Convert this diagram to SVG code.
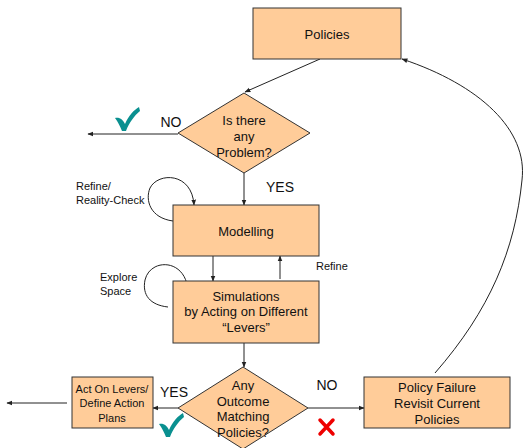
<svg xmlns="http://www.w3.org/2000/svg" width="524" height="448" viewBox="0 0 524 448">
  <defs>
    <marker id="arr" viewBox="0 0 10 10" refX="9" refY="5" markerWidth="6" markerHeight="6" orient="auto">
      <path d="M0,1 L10,5 L0,9 Z" fill="#222"/>
    </marker>
    <style>
      .box { fill: #ffcc99; stroke: #333; stroke-width: 1; }
      .t { font-family: "Liberation Sans", Arial, sans-serif; font-size: 13px; fill: #111; text-anchor: middle; dominant-baseline: central; }
      .s { font-family: "Liberation Sans", Arial, sans-serif; font-size: 11px; fill: #111; dominant-baseline: central; }
      .lbl { font-family: "Liberation Sans", Arial, sans-serif; font-size: 14px; fill: #111; text-anchor: middle; dominant-baseline: central; }
      .c { fill: none; stroke: #222; stroke-width: 1; }
      .tick { fill: #0a9090; }
    </style>
  </defs>

  <!-- connectors -->
  <g id="connectors">
    <line class="c" x1="320" y1="59" x2="245" y2="92" marker-end="url(#arr)"/>
    <line class="c" x1="178" y1="134" x2="88" y2="134" marker-end="url(#arr)"/>
    <line class="c" x1="244" y1="173" x2="244" y2="205" marker-end="url(#arr)"/>
    <path class="c" d="M173,221 C150,218 145,200 150,188 C158,172 192,172 194,205" marker-end="url(#arr)"/>
    <line class="c" x1="213" y1="256" x2="213" y2="281" marker-end="url(#arr)"/>
    <line class="c" x1="280" y1="279" x2="280" y2="256" marker-end="url(#arr)"/>
    <path class="c" d="M168,307 C150,305 142,295 145,280 C150,258 186,258 188,291" marker-end="url(#arr)"/>
    <line class="c" x1="244" y1="343" x2="244" y2="367" marker-end="url(#arr)"/>
    <line class="c" x1="178" y1="408" x2="153" y2="408" marker-end="url(#arr)"/>
    <line class="c" x1="67" y1="403" x2="7" y2="403" marker-end="url(#arr)"/>
    <line class="c" x1="308" y1="408" x2="364" y2="408" marker-end="url(#arr)"/>
    <path class="c" d="M435,373 C490,310 515,250 522,180 C528,130 480,85 402,59" marker-end="url(#arr)"/>
  </g>

  <g id="policies">
    <rect class="box" x="253" y="8" width="148" height="51"/>
    <text class="t" x="327" y="34">Policies</text>
  </g>

  <g id="problem">
    <polygon class="box" points="244,93 310,133 244,173 178,133"/>
    <text class="t" x="244" y="120">Is there</text>
    <text class="t" x="244" y="136">any</text>
    <text class="t" x="244" y="152">Problem?</text>
  </g>

  <g id="modelling">
    <rect class="box" x="173" y="205" width="146" height="51"/>
    <text class="t" x="246" y="231">Modelling</text>
  </g>

  <g id="simulations">
    <rect class="box" x="173" y="281" width="146" height="62"/>
    <text class="t" x="246" y="296">Simulations</text>
    <text class="t" x="246" y="311">by Acting on Different</text>
    <text class="t" x="246" y="327">“Levers”</text>
  </g>

  <g id="outcome">
    <polygon class="box" points="243,367 308,408 243,449 178,408"/>
    <text class="t" x="243" y="385">Any</text>
    <text class="t" x="243" y="401">Outcome</text>
    <text class="t" x="243" y="416">Matching</text>
    <text class="t" x="243" y="432">Policies?</text>
  </g>

  <g id="act">
    <rect class="box" x="72" y="377" width="81" height="51"/>
    <text class="t" x="112" y="389" style="font-size:11px">Act On Levers/</text>
    <text class="t" x="112" y="403" style="font-size:11px">Define Action</text>
    <text class="t" x="112" y="418" style="font-size:11px">Plans</text>
  </g>

  <g id="failure">
    <rect class="box" x="364" y="377" width="146" height="51"/>
    <text class="t" x="437" y="387">Policy Failure</text>
    <text class="t" x="437" y="403">Revisit Current</text>
    <text class="t" x="437" y="419">Policies</text>
  </g>

  <!-- labels -->
  <g id="labels">
    <text class="lbl" x="171" y="122">NO</text>
    <text class="lbl" x="280" y="187">YES</text>
    <text class="s" x="76" y="186">Refine/</text>
    <text class="s" x="76" y="200">Reality-Check</text>
    <text class="s" x="100" y="277">Explore</text>
    <text class="s" x="100" y="291">Space</text>
    <text class="s" x="316" y="266">Refine</text>
    <text class="lbl" x="174" y="392">YES</text>
    <text class="lbl" x="327" y="385">NO</text>
    <!-- check marks -->
    <path class="tick" d="M115,118 C120,117 123,120 125,124 C129,115 134,110 139,107 L140,111 C134,116 129,123 126,131 L122,131 C120,126 118,122 115,118 Z"/>
    <path class="tick" d="M159,424 C164,423 167,426 169,430 C173,421 178,416 183,413 L184,417 C178,422 173,429 170,437 L166,437 C164,432 162,428 159,424 Z"/>
    <!-- red cross -->
    <path d="M320,420 L333,434 M333,420 L320,434" stroke="#e00" stroke-width="3.5" stroke-linecap="round"/>
  </g>
</svg>
